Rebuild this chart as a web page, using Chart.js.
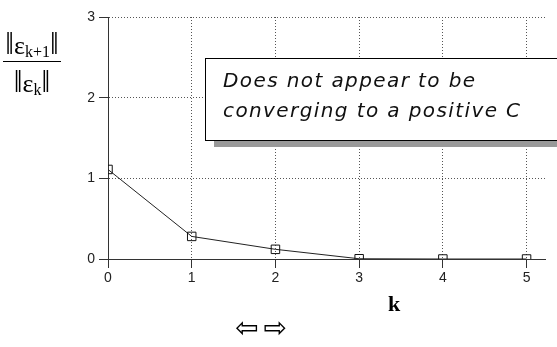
<!DOCTYPE html>
<html>
<head>
<meta charset="utf-8">
<script src="https://cdn.jsdelivr.net/npm/chart.js@4"></script>
<style>
  body { margin: 0; background: #fff; }
  #wrap { position: relative; width: 557px; height: 347px; overflow: hidden; }
  #chart { position: absolute; left: 0; top: 0; }
  .frac { position: absolute; left: 3px; top: 28px; width: 58px; font-family: "Liberation Serif", serif; font-size: 26px; color: #000; text-align: center; }
  .frac .num { border-bottom: 1px solid #000; line-height: 31px; height: 33px; }
  .frac .den { line-height: 31px; padding-top: 4px; }
  .frac .bar { font-size: 31px; }
  .frac sub { font-size: 16px; vertical-align: -3px; }
  .note { position: absolute; left: 205px; top: 58px; width: 370px; height: 81px; border: 1px solid #000; border-right: none; background: #fff;
          box-shadow: 8px 7px 0 -1px #999; font-family: "DejaVu Sans", sans-serif; font-style: italic; font-size: 20px; color: #111; }
  .note div { position: absolute; left: 17px; white-space: nowrap; letter-spacing: 1.4px; }
  .klab { position: absolute; left: 388px; top: 291px; font-family: "Liberation Serif", serif; font-size: 22px; font-weight: bold; }
  .arrows { position: absolute; left: 235px; top: 311px; font-family: "DejaVu Sans", sans-serif; font-size: 28px; letter-spacing: 5px; }
</style>
</head>
<body>
<div id="wrap">
  <canvas id="chart" width="557" height="347"></canvas>
  <div class="frac"><div class="num"><span class="bar">‖</span>ε<sub>k+1</sub><span class="bar">‖</span></div><div class="den"><span class="bar">‖</span>ε<sub>k</sub><span class="bar">‖</span></div></div>
  <div class="note"><div style="top:9px">Does not appear to be</div><div style="top:39px">converging to a positive C</div></div>
  <div class="klab">k</div>
  <div class="arrows">⇦⇨</div>
</div>
<script>
// valeurs
const kValues = [0, 1, 2, 3, 4, 5];
const ratios = [1.11, 0.28, 0.12, 0.003, 0, 0];
const xTicks = [0, 1, 2, 3, 4, 5];
const yTicks = [0, 1, 2, 3];

const chartCanvas = document.getElementById("chart");

const gridStyle = {
    color: "#555",
    tickLength: 9,
    tickColor: "#333",
    tickBorderDash: [],
};
const borderStyle = { display: true, color: "#333", width: 1, dash: [1, 2] };

const ratioChart = new Chart(chartCanvas, {
    type: "line",
    data: {
        datasets: [
            {
                data: kValues.map((k, i) => ({ x: k, y: ratios[i] })),
                borderColor: "#222",
                borderWidth: 1,
                pointStyle: "rect",
                pointRadius: 6,
                pointBorderColor: "#111",
                pointBorderWidth: 1,
                pointBackgroundColor: "rgba(0,0,0,0)",
                tension: 0,
            },
        ],
    },
    options: {
        responsive: false,
        animation: false,
        layout: { padding: { left: 0, top: 17, right: 12, bottom: 0 } },
        plugins: { legend: { display: false }, tooltip: { enabled: false } },
        scales: {
            x: {
                type: "linear",
                min: 0,
                max: 5.22,
                afterFit: (s) => { s.height = 88; },
                afterBuildTicks: (s) => { s.ticks = xTicks.map((v) => ({ value: v })); },
                grid: gridStyle,
                border: borderStyle,
                ticks: { color: "#222", padding: 2, font: { family: "Liberation Sans", size: 14 } },
            },
            y: {
                min: 0,
                max: 3,
                afterFit: (s) => { s.width = 108; },
                afterBuildTicks: (s) => { s.ticks = yTicks.map((v) => ({ value: v })); },
                grid: gridStyle,
                border: borderStyle,
                ticks: { color: "#222", padding: 4, font: { family: "Liberation Sans", size: 14 } },
            },
        },
    },
});
</script>
</body>
</html>
